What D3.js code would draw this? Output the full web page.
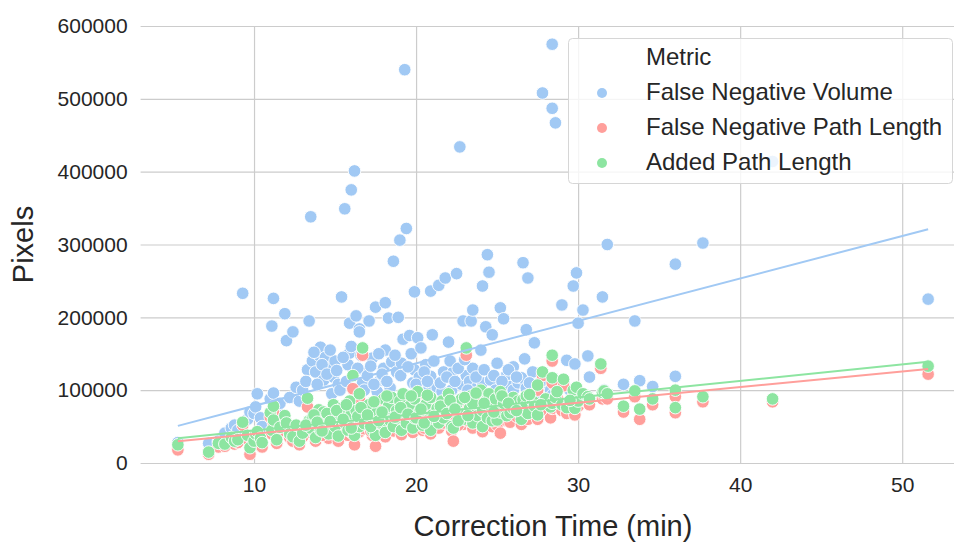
<!DOCTYPE html>
<html>
<head>
<meta charset="utf-8">
<script src="https://cdn.jsdelivr.net/npm/d3@7"></script>
<style>
  body { margin: 0; background: #fff; }
  svg { display: block; font-family: "Liberation Sans", Arial, sans-serif; }
</style>
</head>
<body>
<div id="chart"></div>
<script>
// correction time vs pixel metrics, one entry per corrected case
const times = [
  5.3, 7.2, 7.8, 8.2, 8.6, 8.8, 9.0, 9.3, 9.6, 9.75,
  10.0, 10.1, 10.2, 10.4, 10.5, 11.0, 11.1, 11.2, 11.2, 11.4,
  11.6, 11.9, 12.0, 12.2, 12.4, 12.6, 12.8, 13.0, 13.3, 13.4,
  13.5, 13.6, 13.8, 14.0, 14.1, 14.3, 14.4, 14.6, 14.8, 14.9,
  15.0, 15.2, 15.3, 15.4, 15.6, 15.8, 15.9, 15.9, 16.0, 16.1,
  16.2, 16.3, 16.5, 16.5, 16.7, 16.9, 17.1, 17.3, 17.5, 17.6,
  17.8, 18.0, 18.1, 18.1, 18.3, 18.4, 18.5, 18.6, 18.8, 18.9,
  19.0, 19.1, 19.2, 19.3, 19.4, 19.6, 19.8, 19.9, 19.9, 20.1,
  20.2, 20.4, 20.6, 20.8, 20.9, 20.9, 21.0, 21.3, 21.4, 21.6,
  21.7, 21.8, 22.0, 22.2, 22.3, 22.5, 22.7, 22.8, 22.9, 23.1,
  23.3, 23.4, 23.5, 23.5, 23.8, 24.0, 24.1, 24.1, 24.3, 24.4,
  24.5, 24.6, 24.7, 24.9, 25.0, 25.2, 25.2, 25.4, 25.6, 25.8,
  26.0, 26.0, 26.3, 26.5, 26.6, 26.7, 26.8, 26.8, 26.9, 27.2,
  27.3, 27.5, 27.5, 27.8, 28.0, 28.3, 28.4, 28.4, 28.4, 28.6,
  29.0, 29.1, 29.3, 29.7, 29.8, 29.9, 30.0, 30.3, 30.6, 30.7,
  31.4, 31.5, 31.6, 31.8, 32.8, 33.5, 33.8, 34.6, 36.0, 36.0,
  37.7, 42.0, 51.6,
  13.2, 13.7, 13.9, 14.2, 14.5, 14.7, 15.1, 15.5, 15.7, 16.0,
  16.4, 16.6, 16.8, 17.0, 17.2, 17.4, 17.7, 17.9, 18.2, 18.7,
  19.05, 19.5, 19.7, 20.0, 20.3, 20.5, 20.7, 21.1, 21.5, 21.9,
  22.1, 22.4, 22.6, 23.0, 23.2, 23.7, 24.2, 24.8, 25.3, 25.7,
  26.2, 27.0, 27.7, 28.7, 29.5
];

const fnVolume = [
  28000, 27000, 30000, 41000, 48000, 52000, 45000, 233000, 60000, 70000,
  68000, 77000, 95000, 62000, 50000, 88000, 188000, 226000, 96000, 75000,
  82000, 205000, 168000, 90000, 180000, 104000, 85000, 100000, 128000, 195000,
  338000, 140000, 125000, 148000, 159000, 114000, 145000, 130000, 95000, 118000,
  140000, 108000, 100000, 228000, 349000, 135000, 192000, 151000, 375000, 120000,
  401000, 202000, 184000, 180000, 110000, 125000, 195000, 144000, 214000, 98000,
  114000, 130000, 220000, 155000, 199000, 103000, 139000, 277000, 125000, 200000,
  306000, 137000, 170000, 540000, 322000, 175000, 110000, 235000, 128000, 172000,
  118000, 95000, 135000, 105000, 236000, 119000, 176000, 104000, 244000, 98000,
  125000, 254000, 166000, 100000, 125000, 260000, 434000, 108000, 195000, 120000,
  112000, 195000, 210000, 130000, 105000, 155000, 243000, 110000, 187000, 286000,
  262000, 114000, 176000, 100000, 137000, 213000, 95000, 198000, 121000, 105000,
  132000, 100000, 110000, 117000, 275000, 143000, 183000, 103000, 254000, 125000,
  165000, 95000, 90000, 508000, 105000, 100000, 575000, 487000, 93000, 467000,
  217000, 110000, 141000, 243000, 136000, 261000, 192000, 210000, 147000, 118000,
  130000, 228000, 100000, 300000, 108000, 195000, 113000, 105000, 273000, 119000,
  302000, 414000, 225000,
  112000, 152000, 108000, 135000, 122000, 155000, 127000, 145000, 112000, 160000,
  130000, 148000, 100000, 120000, 133000, 108000, 150000, 122000, 112000, 148000,
  120000, 132000, 150000, 108000, 158000, 125000, 112000, 140000, 110000, 118000,
  140000, 112000, 130000, 142000, 100000, 118000, 128000, 120000, 112000, 128000,
  118000, 110000, 112000, 100000, 100000
];

const fnPathLength = [
  18000, 12000, 22000, 23000, 30000, 26000, 28000, 52000, 33000, 12000,
  25000, 35000, 38000, 28000, 22000, 63000, 40000, 54000, 70000, 27000,
  44000, 58000, 50000, 35000, 30000, 47000, 25000, 36000, 77000, 52000,
  42000, 56000, 30000, 66000, 40000, 64000, 46000, 34000, 55000, 73000,
  44000, 30000, 60000, 68000, 49000, 38000, 56000, 78000, 60000, 102000,
  25000, 65000, 43000, 88000, 148000, 53000, 72000, 38000, 23000, 64000,
  49000, 80000, 58000, 36000, 70000, 52000, 82000, 44000, 66000, 55000,
  78000, 39000, 88000, 60000, 48000, 70000, 42000, 80000, 55000, 90000,
  63000, 45000, 73000, 54000, 40000, 83000, 60000, 68000, 48000, 78000,
  55000, 65000, 88000, 44000, 30000, 73000, 62000, 80000, 53000, 148000,
  68000, 85000, 48000, 75000, 58000, 92000, 65000, 43000, 78000, 56000,
  88000, 70000, 50000, 80000, 52000, 90000, 41000, 75000, 58000, 56000,
  82000, 68000, 78000, 53000, 80000, 65000, 72000, 85000, 60000, 78000,
  70000, 100000, 60000, 120000, 80000, 62000, 140000, 110000, 75000, 82000,
  72000, 106000, 68000, 92000, 66000, 96000, 78000, 88000, 82000, 80000,
  130000, 88000, 92000, 88000, 70000, 91000, 60000, 80000, 91000, 69000,
  84000, 84000, 122000,
  45000, 58000, 49000, 38000, 60000, 50000, 66000, 54000, 72000, 42000,
  58000, 68000, 47000, 60000, 44000, 76000, 52000, 62000, 84000, 56000,
  68000, 60000, 84000, 56000, 66000, 48000, 85000, 57000, 70000, 60000,
  78000, 66000, 52000, 82000, 58000, 88000, 74000, 62000, 84000, 74000,
  64000, 86000, 72000, 90000, 78000
];

const addedPathLength = [
  25000, 15000, 27000, 26000, 35000, 30000, 32000, 56000, 38000, 21000,
  30000, 40000, 43000, 34000, 28000, 69000, 45000, 59000, 78000, 32000,
  49000, 65000, 55000, 40000, 36000, 52000, 30000, 41000, 89000, 58000,
  48000, 62000, 35000, 73000, 45000, 70000, 52000, 40000, 60000, 80000,
  50000, 37000, 66000, 75000, 55000, 45000, 62000, 85000, 68000, 120000,
  38000, 72000, 50000, 95000, 158000, 60000, 80000, 45000, 38000, 70000,
  55000, 88000, 65000, 42000, 78000, 58000, 90000, 50000, 72000, 62000,
  85000, 45000, 95000, 68000, 55000, 78000, 48000, 88000, 62000, 98000,
  70000, 52000, 80000, 60000, 45000, 90000, 66000, 75000, 55000, 85000,
  62000, 72000, 95000, 50000, 48000, 80000, 68000, 88000, 60000, 158000,
  75000, 92000, 55000, 82000, 65000, 100000, 72000, 50000, 85000, 62000,
  95000, 78000, 58000, 88000, 59000, 98000, 70000, 82000, 65000, 69000,
  90000, 75000, 85000, 60000, 87000, 72000, 80000, 92000, 68000, 85000,
  78000, 107000, 66000, 125000, 88000, 77000, 148000, 117000, 82000, 90000,
  80000, 115000, 76000, 100000, 75000, 104000, 85000, 95000, 91000, 88000,
  136000, 97000, 99000, 95000, 78000, 99000, 74000, 88000, 100000, 76000,
  91000, 88000, 133000,
  52000, 66000, 56000, 44000, 68000, 57000, 72000, 60000, 80000, 48000,
  64000, 76000, 54000, 66000, 50000, 84000, 58000, 70000, 92000, 63000,
  76000, 67000, 92000, 62000, 74000, 55000, 93000, 64000, 78000, 68000,
  86000, 74000, 58000, 90000, 65000, 96000, 82000, 70000, 92000, 82000,
  72000, 94000, 80000, 98000, 86000
];

// fitted regression lines, endpoints
const fitTimes = [5.3, 51.6];
const fitVolume = [51000, 321000];
const fitFnPath = [30000, 129000];
const fitAdded = [34000, 139000];

const metrics = ['False Negative Volume', 'False Negative Path Length', 'Added Path Length'];
const colors = ['#a1c9f4', '#ff9f9b', '#8de5a1'];
const xTicks = [10, 20, 30, 40, 50];
const yTicks = [0, 100000, 200000, 300000, 400000, 500000, 600000];

(function() {
  const W = 954, H = 542;
  const left = 140.6, right = 965.4, top = 26, bottom = 463;

  const svg = d3.select('#chart').append('svg')
    .attr('width', W)
    .attr('height', H);

  const x = d3.scaleLinear().domain([3.0, 53.9]).range([left, right]);
  const y = d3.scaleLinear().domain([0, 600000]).range([bottom, top]);
  const color = d3.scaleOrdinal().domain(metrics).range(colors);

  // grid + y axis
  const yAxis = svg.append('g')
    .attr('transform', `translate(${left},0)`)
    .call(d3.axisLeft(y).tickValues(yTicks).tickFormat(d3.format('d'))
      .tickSize(-(right - left)).tickPadding(13));
  yAxis.select('.domain').remove();
  yAxis.selectAll('line').attr('stroke', '#cccccc').attr('stroke-width', 1.2);
  yAxis.selectAll('text').attr('fill', '#262626').style('font-size', '21px');

  const xAxis = svg.append('g')
    .attr('transform', `translate(0,${bottom})`)
    .call(d3.axisBottom(x).tickValues(xTicks)
      .tickSize(-(bottom - top)).tickPadding(14));
  xAxis.select('.domain').remove();
  xAxis.selectAll('line').attr('stroke', '#cccccc').attr('stroke-width', 1.2);
  xAxis.selectAll('text').attr('fill', '#262626').style('font-size', '21px');

  // long table: all volume rows, then fn path, then added path
  const series = [fnVolume, fnPathLength, addedPathLength];
  const rows = [];
  series.forEach((vals, si) => {
    vals.forEach((v, i) => rows.push({ t: times[i], v: v, metric: metrics[si] }));
  });

  svg.append('g').selectAll('circle')
    .data(rows)
    .enter()
    .append('circle')
    .attr('cx', d => x(d.t))
    .attr('cy', d => y(d.v))
    .attr('r', 6.3)
    .attr('fill', d => color(d.metric))
    .attr('stroke', '#fff')
    .attr('stroke-width', 0.9);

  // regression lines
  const fits = [fitVolume, fitFnPath, fitAdded];
  const line = d3.line().x(d => x(d[0])).y(d => y(d[1]));
  fits.forEach((f, i) => {
    svg.append('path')
      .datum(fitTimes.map((t, j) => [t, f[j]]))
      .attr('d', line)
      .attr('fill', 'none')
      .attr('stroke', colors[i])
      .attr('stroke-width', 2);
  });

  // axis titles
  svg.append('text')
    .attr('x', (left + right) / 2)
    .attr('y', 536)
    .attr('text-anchor', 'middle')
    .attr('fill', '#262626')
    .style('font-size', '29px')
    .text('Correction Time (min)');

  svg.append('text')
    .attr('transform', `translate(33,${(top + bottom) / 2}) rotate(-90)`)
    .attr('text-anchor', 'middle')
    .attr('fill', '#262626')
    .style('font-size', '29px')
    .text('Pixels');

  // legend
  const legend = svg.append('g');
  legend.append('rect')
    .attr('x', 568.5).attr('y', 38.5)
    .attr('width', 384).attr('height', 145)
    .attr('rx', 4)
    .attr('fill', 'rgba(255,255,255,0.8)')
    .attr('stroke', '#d6d6d6')
    .attr('stroke-width', 1);

  legend.append('text')
    .attr('x', 646).attr('y', 65)
    .attr('fill', '#262626')
    .style('font-size', '24px')
    .text('Metric');

  const items = legend.selectAll('.legend-item')
    .data(metrics)
    .enter()
    .append('g')
    .attr('class', 'legend-item')
    .attr('transform', (d, i) => `translate(0, ${i * 35})`);

  items.append('circle')
    .attr('cx', 602).attr('cy', 93)
    .attr('r', 5)
    .attr('fill', d => color(d));

  items.append('text')
    .attr('x', 646).attr('y', 100)
    .attr('fill', '#262626')
    .style('font-size', '24px')
    .text(d => d);
})();
</script>
</body>
</html>
